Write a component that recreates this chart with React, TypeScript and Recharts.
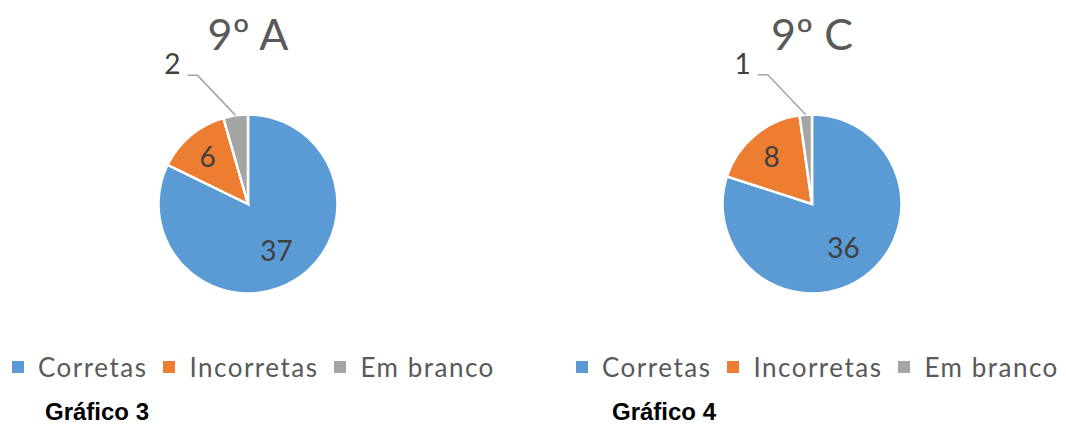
import React from "react";
import { PieChart, Pie, Cell } from "recharts";

const categories = ["Corretas", "Incorretas", "Em branco"];
const values9A = [37, 6, 2];
const values9C = [36, 8, 1];
const titles = ["9º A", "9º C"];
const captions = ["Gráfico 3", "Gráfico 4"];
const colors = ["#5B9BD5", "#ED7D31", "#A5A5A5"];

const RAD = Math.PI / 180;
const insideFactor = [0.6, 0.7];
const FONT = "Lato, 'Open Sans', sans-serif";

function renderLabel(props: any) {
  const { cx, cy, midAngle, outerRadius, value, index } = props;
  const cos = Math.cos(-midAngle * RAD);
  const sin = Math.sin(-midAngle * RAD);
  if (index < 2) {
    const r = outerRadius * insideFactor[index];
    return (
      <text
        x={cx + r * cos}
        y={cy + r * sin}
        textAnchor="middle"
        dominantBaseline="central"
        fill="#404040"
        fontSize={28}
        fontFamily={FONT}
      >
        {value}
      </text>
    );
  }
  const ex = cx + outerRadius * cos;
  const ey = cy + outerRadius * sin;
  const mx = ex - 38;
  const my = ey - 40;
  const hx = mx - 10;
  return (
    <g>
      <polyline
        points={`${ex},${ey} ${mx},${my} ${hx},${my}`}
        fill="none"
        stroke="#A6A6A6"
        strokeWidth={1.5}
      />
      <text
        x={hx - 7}
        y={my - 1}
        textAnchor="end"
        fill="#404040"
        fontSize={28}
        fontFamily={FONT}
      >
        {value}
      </text>
    </g>
  );
}

function LegendRow() {
  return (
    <div
      style={{
        display: "flex",
        alignItems: "center",
        fontFamily: FONT,
        fontSize: 26,
        letterSpacing: 1.5,
        color: "#595959",
        whiteSpace: "nowrap",
      }}
    >
      {categories.map((c, i) => (
        <div key={c} style={{ display: "flex", alignItems: "center", marginRight: 16 }}>
          <span
            style={{
              display: "inline-block",
              width: 12,
              height: 12,
              background: colors[i],
              marginRight: 14,
            }}
          />
          <span>{c}</span>
        </div>
      ))}
    </div>
  );
}

function OnePie({ values, left }: { values: number[]; left: number }) {
  const data = categories.map((name, i) => ({ name, value: values[i] }));
  return (
    <div style={{ position: "absolute", left, top: 0 }}>
      <PieChart width={500} height={426} margin={{ top: 0, right: 0, bottom: 0, left: 0 }}>
        <Pie
          data={data}
          dataKey="value"
          nameKey="name"
          cx={248}
          cy={204}
          outerRadius={89.5}
          startAngle={90}
          endAngle={-270}
          stroke="#ffffff"
          strokeWidth={2.5}
          label={renderLabel}
          labelLine={false}
          isAnimationActive={false}
        >
          {data.map((d, i) => (
            <Cell key={d.name} fill={colors[i]} />
          ))}
        </Pie>
      </PieChart>
      <div style={{ position: "absolute", left: 12, top: 351 }}>
        <LegendRow />
      </div>
    </div>
  );
}

export default function App() {
  const offsets = [0, 564];
  return (
    <div
      style={{
        position: "absolute",
        left: 0,
        top: 0,
        width: 1066,
        height: 426,
        background: "#ffffff",
        overflow: "hidden",
      }}
    >
      <OnePie values={values9A} left={offsets[0]} />
      <OnePie values={values9C} left={offsets[1]} />
      <svg
        width={1066}
        height={426}
        style={{ position: "absolute", left: 0, top: 0, pointerEvents: "none" }}
      >
        {titles.map((t, i) => (
          <text
            key={t}
            x={offsets[i] + 248}
            y={50}
            textAnchor="middle"
            fill="#595959"
            fontSize={43}
            fontFamily={FONT}
          >
            {t}
          </text>
        ))}
        {captions.map((t, i) => (
          <text
            key={t}
            x={offsets[i] + 45 + (i === 1 ? 3 : 0)}
            y={420}
            fill="#000000"
            fontSize={24}
            fontWeight="bold"
            fontFamily="'Liberation Sans', Arial, sans-serif"
          >
            {t}
          </text>
        ))}
      </svg>
    </div>
  );
}
